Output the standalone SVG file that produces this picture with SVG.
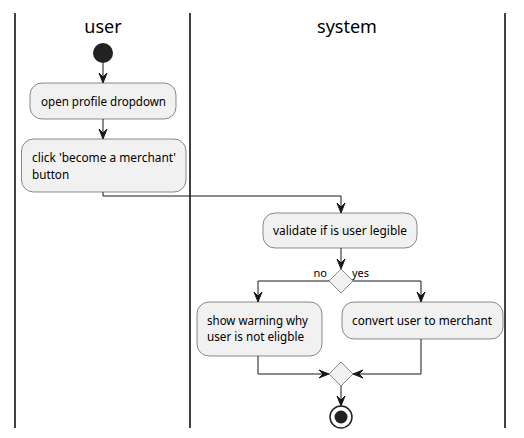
<svg xmlns="http://www.w3.org/2000/svg" width="524" height="438" viewBox="0 0 524 438">
<style>
.lane{stroke:#000;stroke-width:1.5;fill:none}
.title{font-family:"Noto Sans","DejaVu Sans",sans-serif;font-size:18px;fill:#000;text-anchor:middle}
.act{fill:#F1F1F1;stroke:#181818;stroke-width:0.5}
.t{font-family:"Noto Sans","DejaVu Sans",sans-serif;font-size:11.7px;fill:#000}
.lbl{font-family:"Noto Sans","DejaVu Sans",sans-serif;font-size:11px;fill:#000}
.edge{stroke:#181818;stroke-width:1;fill:none}
.ah{fill:#181818;stroke:#181818;stroke-width:1}
</style>
<rect width="524" height="438" fill="#FFFFFF"/>
<g id="lanes">
<line class="lane" x1="15" y1="13" x2="15" y2="428"/>
<line class="lane" x1="190" y1="13" x2="190" y2="428"/>
<line class="lane" x1="505" y1="13" x2="505" y2="428"/>
<text class="title" x="103" y="33">user</text>
<text class="title" x="347" y="33">system</text>
</g>
<g id="start"><circle cx="103" cy="53" r="10" fill="#222222"/></g>
<g id="open">
<rect class="act" x="30" y="83" width="146" height="36" rx="12"/>
<text class="t" x="41" y="106" textLength="125" lengthAdjust="spacingAndGlyphs">open profile dropdown</text>
</g>
<g id="click">
<rect class="act" x="21.5" y="139" width="164.5" height="53" rx="12"/>
<text class="t" x="32" y="162" textLength="144" lengthAdjust="spacingAndGlyphs">click 'become a merchant'</text>
<text class="t" x="32" y="179">button</text>
</g>
<g id="validate">
<rect class="act" x="263" y="213" width="154" height="35" rx="12"/>
<text class="t" x="273" y="235" textLength="134" lengthAdjust="spacingAndGlyphs">validate if is user legible</text>
</g>
<g id="decision">
<polygon class="act" points="341,269 353,281 341,293 329,281"/>
</g>
<g id="warning">
<rect class="act" x="197" y="302" width="125" height="54" rx="12"/>
<text class="t" x="207" y="325" textLength="101" lengthAdjust="spacingAndGlyphs">show warning why</text>
<text class="t" x="207" y="341">user is not eligble</text>
</g>
<g id="convert">
<rect class="act" x="342" y="302" width="161" height="37" rx="12"/>
<text class="t" x="352" y="325" textLength="140" lengthAdjust="spacingAndGlyphs">convert user to merchant</text>
</g>
<g id="merge">
<polygon class="act" points="341,362 353,374 341,386 329,374"/>
</g>
<g id="end">
<circle cx="341" cy="417" r="11" fill="none" stroke="#222222" stroke-width="1.5"/>
<circle cx="341" cy="417" r="6.5" fill="#222222"/>
</g>
<g id="connectors">
<line class="edge" x1="103" y1="63" x2="103" y2="80"/>
<polygon class="ah" points="103,83 99,73 103,77 107,73"/>
<line class="edge" x1="103" y1="119" x2="103" y2="136"/>
<polygon class="ah" points="103,139 99,129 103,133 107,129"/>
<polyline class="edge" points="103,192 103,196 341,196 341,210"/>
<polygon class="ah" points="341,213 337,203 341,207 345,203"/>
<line class="edge" x1="341" y1="248" x2="341" y2="266"/>
<polygon class="ah" points="341,269 337,259 341,263 345,259"/>
<polyline class="edge" points="329,281 258,281 258,299"/>
<polygon class="ah" points="258,302 254,292 258,296 262,292"/>
<polyline class="edge" points="353,281 421,281 421,299"/>
<polygon class="ah" points="421,302 417,292 421,296 425,292"/>
<text class="lbl" x="327" y="277" text-anchor="end">no</text>
<text class="lbl" x="352" y="277">yes</text>
<polyline class="edge" points="258,356 258,374 326,374"/>
<polygon class="ah" points="329,374 319,370 323,374 319,378"/>
<polyline class="edge" points="421,339 421,374 356,374"/>
<polygon class="ah" points="353,374 363,370 359,374 363,378"/>
<line class="edge" x1="341" y1="386" x2="341" y2="403"/>
<polygon class="ah" points="341,406 337,396 341,400 345,396"/>
</g>
</svg>
